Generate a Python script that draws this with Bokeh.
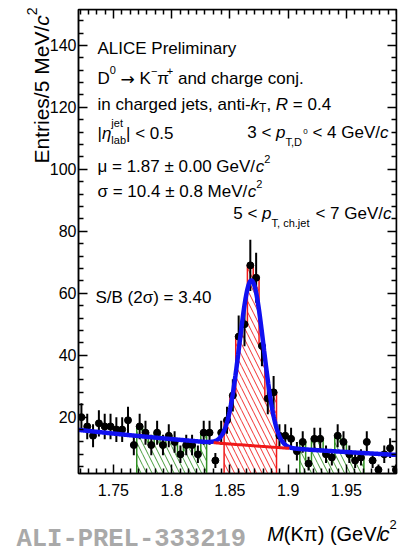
import numpy as np
from bokeh.plotting import figure
from bokeh.models import Range1d, LinearAxis, FixedTicker, Label
from bokeh.core.properties import value
from bokeh.embed import file_html
from bokeh.resources import INLINE

# ---------------- data ----------------
BIN_LOW = 1.72          # GeV/c^2, lower edge of first bin
BIN_WIDTH = 0.005       # 5 MeV/c^2
counts = [20, 17, 14, 18, 17, 17, 16, 16, 19, 11,
          17, 15, 11, 15, 11, 14, 12, 8, 11, 11,
          8, 15, 15, 6, 15, 19, 27, 46, 50, 69,
          65, 43, 26, 28, 14, 14, 13, 9, 12, 5,
          13, 13, 8, 7, 14, 12, 8, 6, 7, 12,
          6, 3, 8, 10, 3]
sideband_left = [1.77, 1.83]
sideband_right = [1.91, 1.965]
signal_window = [1.845, 1.89]
bkg_line_window = [1.836, 1.901]
# fit (gaussian + exponential background), parameters as shown / read
fit_mu = 1.8685
fit_sigma = 0.0104
fit_amp = 53.3
bkg_at_low = 15.9
bkg_slope = -2.6
x_ticks = [1.75, 1.8, 1.85, 1.9, 1.95]
x_tick_labels = ["1.75", "1.8", "1.85", "1.9", "1.95"]
y_ticks = [20, 40, 60, 80, 100, 120, 140]
y_tick_labels = ["20", "40", "60", "80", "100", "120", "140"]

# ---------------- layout ----------------
X_RANGE = (1.72, 1.993)
Y_RANGE = (1.81, 151.6)
BL, BR, BT, BB = 78, 2, 9, 81
WIDTH, HEIGHT = 398, 554
FW, FH = WIDTH - BL - BR, HEIGHT - BT - BB
FRAME_L, FRAME_B = BL, HEIGHT - BB
PX_PER_X = FW / (X_RANGE[1] - X_RANGE[0])
PX_PER_Y = FH / (Y_RANGE[1] - Y_RANGE[0])
FONT = "Liberation Sans"

BLUE = "#1010f0"
RED = "#f01818"
GREEN = "#2f8f22"

n = len(counts)
cnt = np.array(counts, dtype=float)
edges = BIN_LOW + BIN_WIDTH * np.arange(n + 1)
centers = 0.5 * (edges[:-1] + edges[1:])
err = np.sqrt(cnt)

p = figure(frame_width=FW, frame_height=FH, x_range=Range1d(*X_RANGE), y_range=Range1d(*Y_RANGE),
           output_backend="svg", toolbar_location=None,
           min_border_left=BL, min_border_right=BR, min_border_top=BT, min_border_bottom=BB,
           background_fill_color="white", border_fill_color="white")
p.grid.visible = False
p.outline_line_color = "black"
p.outline_line_width = 1.5

# ticks
step = 0.05 / 7
x_minor = [m + k * step for m in np.arange(1.65, 2.05, 0.05) for k in range(1, 7)]
y_minor = [v for v in range(0, 156, 4) if v % 20 != 0]


def style_axis(ax, ticks, minors, overrides, labels, standoff):
    ax.ticker = FixedTicker(ticks=ticks, minor_ticks=minors)
    ax.major_tick_in = 9
    ax.major_tick_out = 0
    ax.minor_tick_in = 5
    ax.minor_tick_out = 0
    ax.major_tick_line_width = 1.5
    ax.minor_tick_line_width = 1.5
    ax.axis_line_width = 1.5
    ax.major_tick_line_color = "black"
    ax.minor_tick_line_color = "black"
    ax.axis_line_color = "black"
    ax.axis_label = None
    if labels:
        ax.major_label_overrides = overrides
        ax.major_label_text_font = FONT
        ax.major_label_text_font_size = "16px"
        ax.major_label_text_color = "black"
        ax.major_label_standoff = standoff
    else:
        ax.major_label_text_font_size = "1px"
        ax.major_label_text_color = None
        ax.major_label_standoff = 0
        ax.axis_label_standoff = 0
        ax.axis_label_text_font_size = "1px"


style_axis(p.xaxis[0], x_ticks, x_minor, dict(zip(x_ticks, x_tick_labels)), True, 10)
style_axis(p.yaxis[0], y_ticks, y_minor, dict(zip(y_ticks, y_tick_labels)), True, 2)
# mirrored tick marks on the top and right frame edges (take no layout space)
top = LinearAxis(fixed_location=Y_RANGE[1])
style_axis(top, x_ticks, x_minor, {}, False, 0)
p.add_layout(top, "above")
right = LinearAxis(fixed_location=X_RANGE[1])
style_axis(right, y_ticks, y_minor, {}, False, 0)
p.add_layout(right, "right")


# ---------------- hatched sideband / signal histograms ----------------
def bins_in(lo, hi):
    return np.array([i for i in range(n) if edges[i] >= lo - 1e-9 and edges[i + 1] <= hi + 1e-9])


def hatched(lo, hi, color):
    idx = bins_in(lo, hi)
    p.quad(left=edges[idx], right=edges[idx + 1], bottom=0, top=cnt[idx],
           fill_color=None, line_color=None, hatch_pattern="\\", hatch_color=color,
           hatch_scale=11, hatch_weight=1, hatch_alpha=0.9)
    xs = [edges[idx[0]]]
    ys = [0.0]
    for i in idx:
        xs += [edges[i], edges[i + 1]]
        ys += [cnt[i], cnt[i]]
    xs.append(edges[idx[-1] + 1])
    ys.append(0.0)
    p.line(xs, ys, color=color, line_width=1.5)


hatched(sideband_left[0], sideband_left[1], GREEN)
hatched(sideband_right[0], sideband_right[1], GREEN)
hatched(signal_window[0], signal_window[1], RED)

# ---------------- data points ----------------
p.segment(x0=centers, y0=cnt - err, x1=centers, y1=cnt + err, line_color="black", line_width=2)
p.scatter(centers, cnt, size=7, color="black")


# ---------------- fit ----------------
def bkg(x):
    return bkg_at_low * np.exp(bkg_slope * (x - BIN_LOW))


xf = np.linspace(X_RANGE[0], X_RANGE[1], 700)
yf = fit_amp * np.exp(-0.5 * ((xf - fit_mu) / fit_sigma) ** 2) + bkg(xf)
p.line(xf, yf, line_color=BLUE, line_width=4.5)
xr = np.linspace(bkg_line_window[0], bkg_line_window[1], 50)
p.line(xr, bkg(xr), line_color=RED, line_width=3)

# ---------------- texts ----------------
AW = {' ': 278, '!': 278, '(': 333, ')': 333, ',': 278, '-': 333, '.': 278, '/': 278, ':': 278,
      '<': 584, '=': 584, '>': 584, '|': 260, '\u00b1': 584, '+': 584, '\u2212': 584,
      'A': 667, 'B': 667, 'C': 722, 'D': 722, 'E': 667, 'G': 778, 'I': 278, 'K': 667, 'L': 556,
      'M': 833, 'P': 667, 'R': 722, 'S': 667, 'T': 611, 'V': 667,
      'a': 556, 'b': 556, 'c': 500, 'd': 556, 'e': 556, 'g': 556, 'h': 556, 'i': 222, 'j': 222,
      'k': 500, 'l': 222, 'm': 833, 'n': 556, 'o': 556, 'p': 556, 'r': 333, 's': 500, 't': 278,
      'u': 556, 'v': 500, 'y': 500, '\u03bc': 576, '\u03c3': 617, '\u03c0': 556, '\u03b7': 556,
      '\u2192': 838}
for d in "0123456789":
    AW[d] = 556


def tw(s, size):
    return sum(AW.get(ch, 556) for ch in s) * size / 1000.0


def fstyle(italic, bold):
    return "bold italic" if (italic and bold) else ("italic" if italic else ("bold" if bold else "normal"))


def label(px, py, text, size, italic=False, bold=False, font=FONT, color="black", angle=0.0,
          align="left", outside=False, baseline="alphabetic"):
    if outside:
        # free text outside the frame: text glyph on the overlay level (not clipped)
        xd = X_RANGE[0] + (px - FRAME_L) / PX_PER_X
        yd = Y_RANGE[0] + (FRAME_B - py) / PX_PER_Y
        p.text(x=[xd], y=[yd], text=[text], text_font=value(font), text_font_size=value(f"{size}px"),
               text_font_style=value(fstyle(italic, bold)), text_color=color,
               text_baseline=value(baseline), text_align=value(align), angle=angle, level="overlay")
        return
    p.add_layout(Label(x=X_RANGE[0], y=Y_RANGE[0], x_offset=px - FRAME_L, y_offset=FRAME_B - py,
                       text=text, text_font=font, text_font_size=f"{size}px",
                       text_font_style=fstyle(italic, bold), text_color=color,
                       text_baseline=baseline, text_align=align, angle=angle))


S = 17


def N(t, s=S, font=FONT):
    return (t, s, False, 0, tw(t, s), font)


def I(t, s=S):
    return (t, s, True, 0, tw(t, s), FONT)


def SUB(t, s=12, dy=-9, it=False, adv=None):
    return (t, s, it, dy, tw(t, s) if adv is None else adv, FONT)


def SUP(t, s=12, dy=8, it=False, adv=None):
    return (t, s, it, dy, tw(t, s) if adv is None else adv, FONT)


def rich(px, py, parts, align="left", outside=False):
    total = sum(pt[4] for pt in parts)
    x = px if align == "left" else px - total
    for t, s, it, dy, adv, font in parts:
        stripped = t.lstrip(" ")
        lead = tw(t[:len(t) - len(stripped)], s)
        label(x + lead, py - dy, stripped, s, italic=it, font=font, outside=outside)
        x += adv


label(97, 48, "ALICE Preliminary", S)
rich(97, 78, [N("D"), SUP("0", 11, 9), N(" "), N("\u2192", S, "DejaVu Sans"), N(" K"),
              SUP("\u2212", 11, 8), N("\u03c0"), SUP("+", 11, 8), N(" and charge conj.")])
rich(97, 104, [N("in charged jets, anti-"), I("k"), SUB("T", 12, -3), N(", "), I("R"), N(" = 0.4")])
rich(97, 133, [N("|"), I("\u03b7"), SUP("jet", 11, 11, adv=0), SUB("lab", 11, -6), N("| < 0.5")])
rich(388, 132, [N("3 < "), I("p"), SUB("T,D", 11, -9), SUP("0", 8, 1), N(" < 4 GeV/"), I("c")], align="right")
rich(97, 166, [N("\u03bc = 1.87 \u00b1 0.00 GeV/"), I("c"), SUP("2", 11, 8)])
rich(97, 191, [N("\u03c3 = 10.4 \u00b1 0.8 MeV/"), I("c"), SUP("2", 11, 8)])
rich(391, 213, [N("5 < "), I("p"), SUB("T, ch.jet", 11, -9), N(" < 7 GeV/"), I("c")], align="right")
label(95, 297, "S/B (2\u03c3) = 3.40", S)

# x-axis title (the closing bracket lies beyond the picture's right edge in the reference)
rich(266.7, 533, [I("M", 20), N("(K\u03c0) (GeV/", 20), I("c", 20), SUP("2", 13, 9)], outside=True)

# y-axis title (rotated)
ty0 = 163.0
bx = 40.5
a = np.pi / 2
label(bx, ty0, "Entries/5 MeV/", 21, angle=a, outside=True)
label(bx, ty0 - tw("Entries/5 MeV/", 21), "c", 21, italic=True, angle=a, outside=True)
label(bx - 9, ty0 - tw("Entries/5 MeV/", 21) - tw("c", 21), "2", 14, angle=a, outside=True)

# preliminary tag
label(16, 553.5, "ALI-PREL-333219", 25.5, bold=True, font="Liberation Mono", color="#a9a9a9",
      outside=True, baseline="bottom")

open("out.html", "w").write(file_html(p, INLINE))
